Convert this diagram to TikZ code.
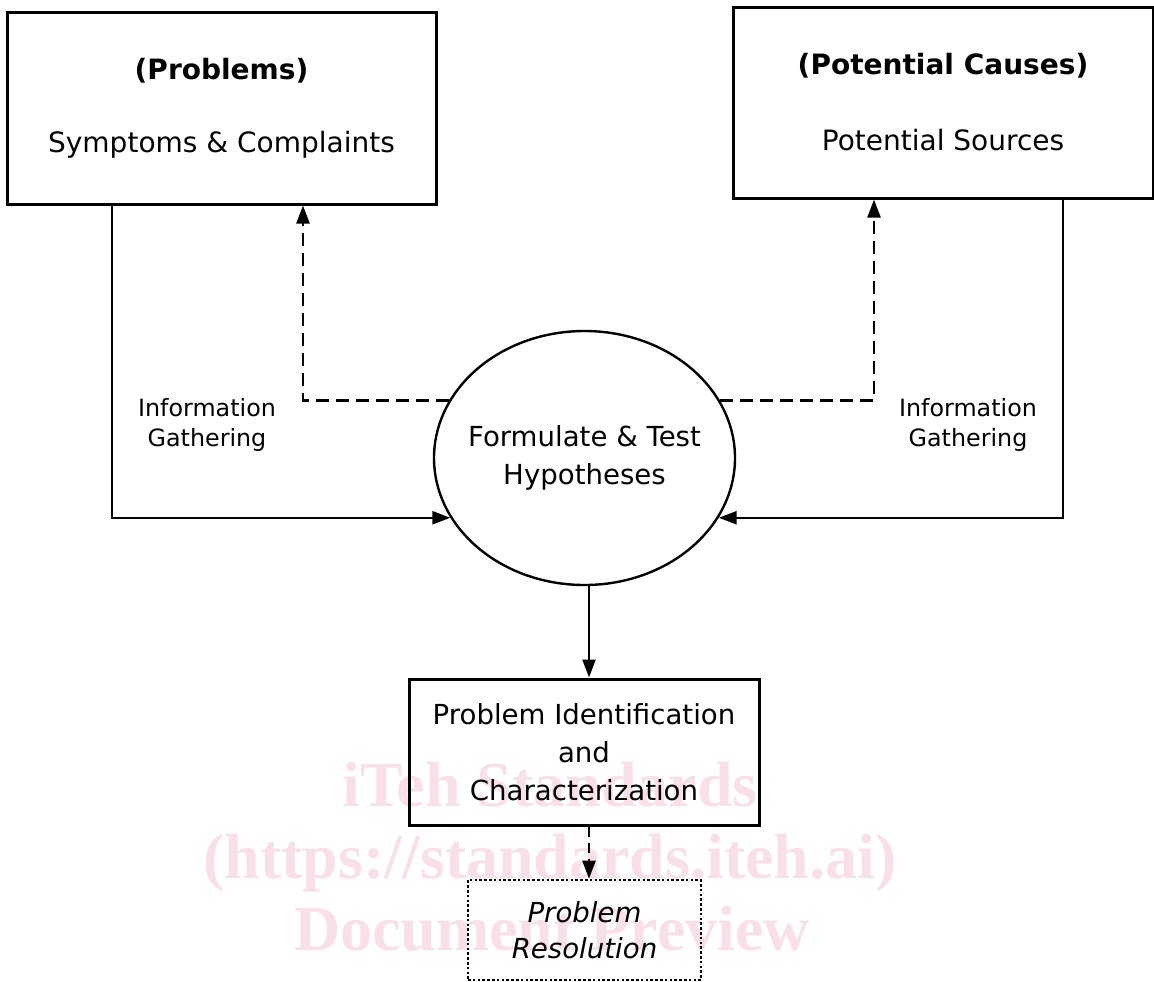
\documentclass[tikz,border=0pt]{standalone}
\usepackage{fontspec}
\setmainfont{DejaVu Sans}
\newfontfamily\wmfont{Liberation Serif}
\usetikzlibrary{arrows.meta, positioning, shapes.geometric}
\definecolor{wmpink}{RGB}{249,224,230}

\begin{document}
\begin{tikzpicture}[x=0.5pt, y=-0.5pt, >={Triangle[length=9pt,width=6.5pt]}, line width=1.2pt,
        every node/.style={font=\fontsize{13.8}{19}\selectfont, align=center},
        box/.style={draw, line width=1.5pt, inner sep=0pt},
        small/.style={font=\fontsize{11.9}{15}\selectfont},
        wm/.style={anchor=base, text=wmpink, font=\wmfont\bfseries\fontsize{32}{32}\selectfont},
        dashline/.style={dash pattern=on 6.5pt off 3.5pt}]
        \useasboundingbox (0,0) rectangle (1154,981);

        % watermark
        \node[wm] (wm1) at (550,806) {iTeh Standards};
        \node[wm] (wm2) at (550,878) {(https://standards.iteh.ai)};
        \node[wm] (wm3) at (552,950) {Document Preview};

        % nodes
        \node[box, minimum width=214.5pt, minimum height=96pt, font=\fontsize{14}{36.5}\selectfont] (prob) at (221.5,108) {\textbf{(Problems)}\\Symptoms \& Complaints};
        \node[box, minimum width=210pt, minimum height=95.5pt, font=\fontsize{14}{38}\selectfont] (cause) at (943,102.5) {\textbf{(Potential Causes)}\\Potential Sources};
        \node[draw, ellipse, inner xsep=-8pt, inner ysep=0pt, minimum width=150.5pt, minimum height=127pt] (hyp) at (584.5,458) {Formulate \& Test\\Hypotheses};
        \node[box, minimum width=175pt, minimum height=73pt] (ident) at (584,752) {Problem Identification\\and\\Characterization};
        \node[draw, line width=1.3pt, dash pattern=on 1.3pt off 1.1pt, inner sep=0pt, minimum width=116.5pt, minimum height=50pt, font=\itshape\fontsize{13.8}{18}\selectfont] (resol) at (584.5,930) {Problem\\Resolution};
        \node[small] (infl) at (207,425) {Information\\Gathering};
        \node[small] (infr) at (968,425) {Information\\Gathering};

        \coordinate (dl) at (303,401);
        \coordinate (dr) at (874,401);
        \coordinate (il) at (112,517);
        \coordinate (ir) at (1063,517);
        \coordinate (mid) at (589,0);

        % arrows
        \draw[->, dashline] (hyp.157) -| (prob.south -| dl);
        \draw[->, dashline] (hyp.23) -| (cause.south -| dr);
        \draw[->] (prob.south -| il) |- (hyp.204);
        \draw[->] (cause.south -| ir) |- (hyp.336);
        \draw[->] (hyp.south -| mid) -- (ident.north -| mid);
        \draw[->, dash pattern=on 5pt off 3pt] (ident.south -| mid) -- (resol.north -| mid);
    \end{tikzpicture}
\end{document}
